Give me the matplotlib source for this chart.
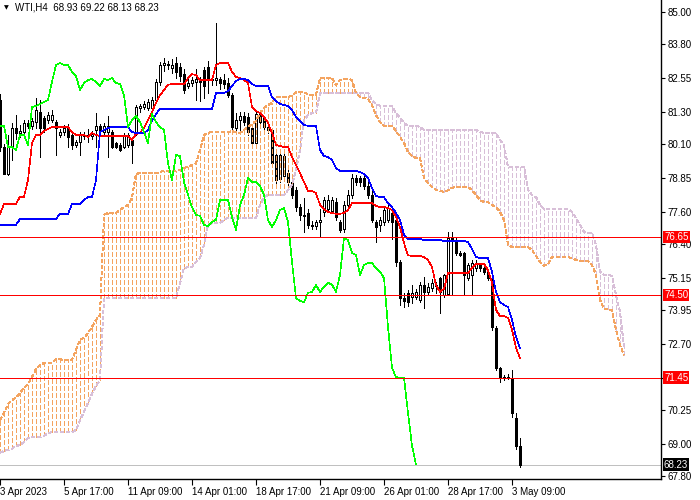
import matplotlib
matplotlib.use('Agg')
import matplotlib.pyplot as plt
from matplotlib.patches import Rectangle
from matplotlib.transforms import blended_transform_factory

plt.rcParams['font.family'] = ['Liberation Sans', 'DejaVu Sans']

title = "WTI,H4  68.93 69.22 68.13 68.23"

opens = [81.75, 80.00, 79.00, 80.00, 80.70, 80.52, 80.55, 80.89, 80.78, 80.92,
         81.30, 81.07, 80.99, 81.00, 80.92, 80.44, 80.55, 80.70, 80.44, 80.07,
         80.18, 80.40, 80.44, 80.40, 80.63, 80.78, 80.55, 80.55, 80.55, 80.15,
         80.07, 80.00, 80.07, 80.26, 80.52, 81.44, 81.48, 81.44, 81.44, 81.74,
         82.41, 83.04, 83.07, 82.93, 83.11, 82.96, 82.70, 82.26, 82.37, 82.41,
         82.48, 82.85, 82.96, 82.52, 82.48, 82.52, 82.48, 82.37, 81.92, 80.70,
         81.00, 81.15, 81.11, 80.70, 80.15, 81.22, 81.07, 80.74, 80.63, 79.70,
         78.80, 78.92, 79.03, 78.70, 78.40, 77.77, 77.48, 77.55, 77.11, 77.07,
         77.22, 77.59, 77.70, 77.62, 77.96, 77.22, 76.96, 77.85, 78.22, 78.85,
         78.85, 78.85, 78.55, 78.22, 77.22, 77.11, 77.20, 77.29, 77.55, 77.29,
         75.74, 74.40, 74.59, 74.44, 74.44, 74.33, 74.88, 74.63, 74.77, 74.85,
         75.14, 74.51, 74.55, 76.62, 76.55, 76.07, 76.07, 75.14, 75.25, 75.51,
         75.62, 75.51, 75.37, 75.14, 73.29, 71.81, 71.47, 71.47, 71.45, 69.95, 68.93]

highs = [81.95, 80.10, 80.45, 80.90, 81.20, 80.80, 81.00, 80.98, 81.07, 81.81,
         81.74, 81.15, 81.30, 81.35, 81.00, 80.65, 80.80, 80.85, 80.50, 80.25,
         80.55, 80.55, 80.65, 80.60, 81.26, 80.85, 80.90, 81.15, 80.62, 80.20,
         80.15, 80.50, 80.50, 80.35, 81.55, 81.60, 81.70, 81.78, 81.85, 82.50,
         83.15, 83.30, 83.20, 83.26, 83.33, 83.10, 82.90, 82.55, 82.60, 82.90,
         82.60, 82.96, 83.18, 82.60, 84.60, 82.60, 82.70, 82.55, 82.00, 81.26,
         81.30, 81.30, 81.26, 80.85, 81.35, 81.35, 81.15, 80.90, 80.70, 79.80,
         79.90, 79.80, 79.30, 78.85, 78.50, 77.90, 78.10, 77.70, 77.25, 77.30,
         77.70, 78.15, 78.20, 78.15, 78.10, 77.30, 78.00, 78.40, 79.00, 78.96,
         78.92, 78.95, 78.70, 78.40, 77.30, 77.40, 77.75, 77.90, 77.70, 77.35,
         75.80, 74.60, 74.70, 74.88, 74.75, 75.00, 75.18, 74.95, 75.10, 75.00,
         75.18, 75.30, 76.85, 76.85, 76.66, 76.15, 76.10, 75.70, 75.80, 75.80,
         75.70, 75.62, 75.45, 75.30, 73.35, 71.85, 71.55, 71.60, 71.73, 70.14, 69.22]

lows = [79.85, 78.98, 78.97, 79.50, 80.30, 80.35, 80.40, 80.70, 80.66, 80.70,
        79.63, 80.55, 80.90, 80.92, 79.70, 80.35, 80.45, 80.00, 79.92, 79.99,
        79.70, 80.30, 80.20, 80.30, 80.00, 80.50, 80.45, 79.63, 79.95, 79.95,
        79.85, 79.95, 80.00, 79.40, 80.45, 81.30, 81.40, 81.37, 81.30, 81.65,
        82.30, 82.80, 82.90, 82.74, 82.55, 82.45, 82.00, 82.18, 82.25, 81.74,
        81.70, 81.80, 82.00, 82.30, 82.30, 82.15, 82.20, 81.85, 80.55, 80.55,
        80.55, 80.80, 80.44, 80.00, 80.00, 80.80, 80.60, 80.50, 79.30, 78.48,
        78.70, 78.85, 78.55, 78.10, 77.62, 77.30, 76.85, 77.00, 76.95, 76.95,
        76.65, 77.45, 77.60, 77.55, 77.30, 76.85, 76.85, 77.70, 78.10, 78.60,
        78.55, 78.45, 78.10, 77.20, 76.48, 76.90, 77.10, 77.20, 76.60, 75.60,
        74.15, 74.05, 74.10, 74.20, 74.35, 74.25, 74.03, 74.55, 74.65, 74.60,
        73.85, 74.45, 74.50, 74.50, 76.00, 75.95, 74.51, 75.05, 74.51, 75.40,
        75.40, 75.30, 75.05, 73.20, 71.75, 71.30, 71.35, 71.40, 70.00, 68.80, 68.13]

closes = [80.00, 79.00, 79.99, 80.70, 80.52, 80.60, 80.89, 80.78, 80.96, 81.37,
          80.70, 80.70, 81.18, 81.18, 80.70, 80.55, 80.70, 80.37, 80.07, 80.18,
          80.44, 80.44, 80.44, 80.48, 80.78, 80.63, 80.78, 80.78, 80.00, 80.00,
          79.89, 80.44, 80.44, 80.07, 81.48, 81.52, 81.59, 81.67, 81.74, 82.41,
          83.04, 83.11, 83.04, 83.04, 82.78, 82.63, 82.11, 82.37, 82.48, 82.52,
          82.41, 82.26, 82.52, 82.48, 82.55, 82.37, 82.33, 81.92, 80.74, 81.00,
          81.15, 80.92, 80.55, 80.15, 81.22, 80.92, 80.74, 80.63, 79.40, 78.77,
          79.70, 79.66, 78.70, 78.22, 77.77, 77.48, 77.45, 77.11, 77.07, 77.22,
          77.30, 78.03, 78.03, 78.03, 77.40, 76.92, 77.85, 78.22, 78.85, 78.70,
          78.70, 78.55, 78.22, 77.29, 77.03, 77.29, 77.66, 77.74, 77.22, 75.74,
          74.40, 74.30, 74.25, 74.59, 74.63, 74.88, 74.63, 74.81, 74.96, 74.90,
          74.63, 75.25, 76.62, 76.55, 76.07, 76.00, 75.25, 75.62, 75.70, 75.70,
          75.51, 75.37, 75.14, 73.33, 71.81, 71.47, 71.44, 71.44, 70.14, 68.93, 68.23]

tenkan = [77.52, 77.89, 77.89, 77.89, 77.89, 78.15, 78.15, 78.77, 80.15, 80.44,
          80.44, 80.59, 80.67, 80.74, 80.74, 80.74, 80.74, 80.74, 80.55, 80.44,
          80.44, 80.44, 80.37, 80.52, 80.44, 80.40, 80.40, 80.40, 80.40, 80.40,
          80.40, 80.40, 80.40, 80.26, 80.48, 80.52, 80.70, 81.00, 81.30, 81.63,
          81.92, 82.11, 82.30, 82.33, 82.33, 82.33, 82.33, 82.55, 82.70, 82.66,
          82.48, 82.48, 82.48, 82.48, 83.04, 83.11, 83.11, 83.11, 82.78, 82.59,
          82.55, 82.48, 82.37, 81.48, 81.33, 81.26, 81.11, 80.89, 80.52, 80.07,
          80.03, 80.00, 80.00, 79.63, 79.33, 79.03, 78.70, 78.37, 78.37, 78.29,
          77.85, 77.70, 77.59, 77.55, 77.52, 77.52, 77.55, 77.66, 77.92, 77.92,
          77.92, 77.92, 77.92, 77.92, 77.81, 77.77, 77.77, 77.74, 77.66, 77.40,
          77.03, 76.44, 75.99, 75.96, 75.96, 75.96, 75.92, 75.81, 75.55, 74.88,
          74.63, 74.74, 75.33, 75.33, 75.33, 75.33, 75.33, 75.33, 75.51, 75.66,
          75.66, 75.66, 75.44, 74.96, 73.96, 73.73, 73.73, 73.66, 73.22, 72.55, 72.18]

kijun = [77.11, 77.11, 77.11, 77.11, 77.11, 77.33, 77.33, 77.33, 77.33, 77.33,
         77.33, 77.33, 77.33, 77.33, 77.33, 77.52, 77.52, 77.52, 77.89, 77.89,
         77.89, 78.03, 78.14, 78.14, 78.77, 80.55, 80.63, 80.70, 80.74, 80.74,
         80.74, 80.74, 80.74, 80.55, 80.52, 80.52, 80.52, 80.63, 80.96, 81.22,
         81.41, 81.41, 81.41, 81.41, 81.41, 81.41, 81.41, 81.41, 81.41, 81.41,
         81.41, 81.41, 81.41, 81.41, 82.00, 82.00, 82.00, 82.07, 82.26, 82.44,
         82.52, 82.52, 82.48, 82.33, 82.26, 82.26, 82.26, 82.26, 81.85, 81.70,
         81.59, 81.55, 81.52, 81.37, 81.11, 80.96, 80.81, 80.78, 80.78, 80.78,
         79.89, 79.66, 79.63, 79.52, 79.22, 79.11, 79.11, 79.11, 79.11, 79.11,
         79.07, 79.00, 78.85, 78.48, 78.18, 78.14, 78.14, 77.92, 77.77, 77.55,
         77.29, 76.74, 76.59, 76.59, 76.59, 76.59, 76.55, 76.55, 76.55, 76.55,
         76.55, 76.51, 76.51, 76.51, 76.51, 76.51, 76.51, 76.48, 76.22, 75.92,
         75.88, 75.88, 75.88, 75.37, 74.62, 74.25, 74.14, 74.07, 73.59, 72.96, 72.55]

span_a = [69.88, 70.14, 70.47, 70.62, 70.70, 70.88, 71.07, 71.21, 71.47, 71.77,
          71.92, 71.99, 71.99, 71.99, 72.14, 72.14, 72.10, 72.10, 72.10, 72.47,
          72.85, 72.92, 73.10, 73.33, 73.59, 73.77, 77.48, 77.55, 77.55, 77.55,
          77.66, 77.77, 77.85, 78.11, 79.00, 79.03, 79.03, 79.03, 79.03, 79.03,
          79.07, 79.11, 79.11, 79.11, 79.11, 79.14, 79.22, 79.26, 79.33, 79.40,
          79.89, 80.44, 80.52, 80.55, 80.55, 80.55, 80.55, 80.55, 80.59, 80.55,
          80.52, 80.63, 80.74, 80.85, 80.96, 81.26, 81.44, 81.55, 81.63, 81.85,
          81.85, 81.85, 81.85, 81.89, 82.04, 82.04, 82.04, 81.93, 81.93, 81.93,
          82.55, 82.55, 82.55, 82.55, 82.29, 82.48, 82.52, 82.52, 82.48, 82.00,
          81.85, 81.81, 81.78, 81.55, 81.18, 80.92, 80.78, 80.78, 80.78, 80.59,
          80.37, 80.15, 79.81, 79.66, 79.59, 79.59, 78.85, 78.66, 78.52, 78.40,
          78.37, 78.33, 78.40, 78.48, 78.52, 78.52, 78.52, 78.52, 78.40, 78.22,
          78.03, 77.96, 77.96, 77.85, 77.77, 77.59, 77.29, 76.37, 76.29, 76.29,
          76.29, 76.29, 76.29, 76.18, 75.96, 75.74, 75.59, 75.66, 75.92, 75.92,
          75.92, 75.92, 75.92, 75.88, 75.81, 75.77, 75.77, 75.77, 75.63, 75.26,
          74.33, 73.99, 73.99, 73.96, 73.22, 72.66, 72.29]

span_b = [68.66, 68.73, 68.77, 68.81, 68.92, 68.95, 69.07, 69.21, 69.25, 69.25,
          69.25, 69.29, 69.40, 69.43, 69.43, 69.43, 69.43, 69.43, 69.43, 69.51,
          69.88, 70.18, 70.51, 70.85, 71.14, 71.36, 74.40, 74.40, 74.40, 74.40,
          74.40, 74.40, 74.40, 74.40, 74.40, 74.40, 74.40, 74.40, 74.40, 74.40,
          74.40, 74.40, 74.40, 74.40, 74.40, 74.96, 75.51, 75.55, 75.55, 75.74,
          75.88, 76.37, 77.11, 77.18, 77.18, 77.18, 77.29, 77.37, 77.37, 77.37,
          77.37, 77.37, 77.37, 77.37, 77.37, 77.85, 78.14, 78.22, 78.22, 78.22,
          78.22, 78.22, 78.40, 78.59, 79.14, 79.89, 81.00, 81.18, 81.26, 81.26,
          82.00, 82.00, 82.00, 82.00, 82.00, 82.00, 82.00, 82.00, 82.00, 82.00,
          82.00, 82.00, 82.00, 81.74, 81.59, 81.52, 81.52, 81.52, 81.52, 81.26,
          81.07, 80.89, 80.78, 80.78, 80.78, 80.74, 80.63, 80.63, 80.63, 80.63,
          80.63, 80.63, 80.63, 80.63, 80.63, 80.63, 80.63, 80.63, 80.63, 80.63,
          80.55, 80.52, 80.52, 80.52, 80.52, 80.26, 80.07, 79.26, 79.26, 79.26,
          79.26, 79.26, 78.40, 78.22, 78.14, 77.85, 77.70, 77.70, 77.70, 77.70,
          77.70, 77.70, 77.70, 77.59, 77.37, 77.11, 76.85, 76.81, 76.81, 76.37,
          75.37, 75.26, 75.26, 75.22, 74.51, 73.88, 72.59]

chikou_shift = 26
levels = [76.65, 74.50, 71.45]
last_price = 68.23
ytick_values = [85.00, 83.80, 82.55, 81.30, 80.10, 78.85, 77.60, 76.40, 75.15,
                73.95, 72.70, 71.45, 70.25, 69.00, 67.80]
ytick_labels = ["85.00", "83.80", "82.55", "81.30", "80.10", "78.85", "77.60", "76.40",
                "75.15", "73.95", "72.70", "", "70.25", "69.00", "67.80"]
xtick_bars = [0, 16, 32, 48, 64, 80, 96, 112, 128]
xtick_labels = ["3 Apr 2023", "5 Apr 17:00", "11 Apr 09:00", "14 Apr 01:00", "18 Apr 17:00",
                "21 Apr 09:00", "26 Apr 01:00", "28 Apr 17:00", "3 May 09:00"]

SANDY = '#F4A460'
THISTLE = '#D8BFD8'
LW = 0.6
LW_IND = 0.45
HATCH = (0, (6.4, 4.0))
EDGE = (0, (5.0, 4.0))

fig = plt.figure(figsize=(7, 5), dpi=100)
ax = fig.add_axes([0, 21.5 / 500, 661 / 700, 478.5 / 500])
ax.set_xlim(0, 661 / 4)
ax.set_ylim(85.445 - 478.5 * 0.03706, 85.445)

# candles
for i in range(len(closes)):
    o, h, l, c = opens[i], highs[i], lows[i], closes[i]
    ax.plot([i, i], [l, h], color='black', lw=LW, zorder=2, solid_capstyle='butt',
            antialiased=False)
    bull = c >= o
    ax.add_patch(Rectangle((i - 0.25, min(o, c)), 0.5, max(abs(c - o), 0.01),
                           facecolor='white' if bull else 'black', edgecolor='black',
                           lw=LW, zorder=2.1, antialiased=False))

# cloud
for k in range(len(span_a)):
    a, b = span_a[k], span_b[k]
    col = SANDY if a >= b else THISTLE
    ax.vlines(k, min(a, b), max(a, b), colors=col, linestyles=HATCH, lw=LW_IND,
              zorder=3, antialiased=False)
ks = list(range(len(span_a)))
ax.plot(ks, span_b, color=THISTLE, lw=LW_IND, ls=EDGE, zorder=3.1, antialiased=False)
ax.plot(ks, span_a, color=SANDY, lw=LW_IND, ls=EDGE, zorder=3.2, antialiased=False)

# tenkan / kijun / chikou
ax.plot(range(len(tenkan)), tenkan, color='#FF0000', lw=LW_IND, zorder=4, antialiased=False)
ax.plot(range(len(kijun)), kijun, color='#0000FF', lw=LW_IND, zorder=4, antialiased=False)
ch_x = [i - chikou_shift for i in range(chikou_shift, len(closes))]
ch_y = closes[chikou_shift:]
ax.plot(ch_x, ch_y, color='#00FF00', lw=LW_IND, zorder=4, antialiased=False)

# horizontal levels
for lv in levels:
    ax.axhline(lv, color='#FF0000', lw=LW, zorder=5, antialiased=False)
ax.axhline(last_price, color='#C0C0C0', lw=LW, zorder=1.5, antialiased=False)

# axes styling
for s in ['top', 'left']:
    ax.spines[s].set_visible(False)
for s in ['right', 'bottom']:
    ax.spines[s].set_color('black')
    ax.spines[s].set_linewidth(1.0)
ax.yaxis.tick_right()
ax.set_yticks(ytick_values)
ax.set_yticklabels(ytick_labels)
ax.set_xticks(xtick_bars)
ax.set_xticklabels(xtick_labels, ha='left')
ax.tick_params(axis='y', direction='out', length=3, width=0.8, labelsize=7, pad=2, colors='black')
ax.tick_params(axis='x', direction='out', length=4, width=0.8, labelsize=7, pad=2, colors='black')

trans = blended_transform_factory(ax.transAxes, ax.transData)
xr = 1 + 3 / 661
for lv in levels:
    ax.text(xr, lv, f"{lv:.2f}", transform=trans, ha='left', va='center', fontsize=7,
            color='white', clip_on=False, zorder=10,
            bbox=dict(boxstyle='square,pad=0.12', fc='#FF0000', ec='none'))
ax.text(xr, last_price, f"{last_price:.2f}", transform=trans, ha='left', va='center',
        fontsize=7, color='white', clip_on=False, zorder=10,
        bbox=dict(boxstyle='square,pad=0.12', fc='black', ec='none'))

fig.text(4 / 700, 1 - 8 / 500, "\u25BC", fontsize=4.5, color='black', va='center', ha='left',
         family='DejaVu Sans')
fig.text(15 / 700, 1 - 8 / 500, title, fontsize=7, color='black', va='center', ha='left')

fig.savefig('out.png', dpi=100)
